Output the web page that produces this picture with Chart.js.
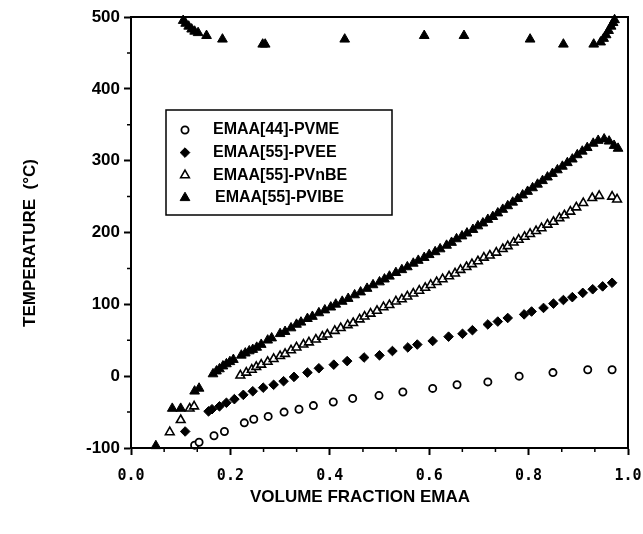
<!DOCTYPE html>
<html>
<head>
<meta charset="utf-8">
<title>EMAA blends - temperature vs volume fraction</title>
<script src="https://cdn.jsdelivr.net/npm/chart.js@4.4.1/dist/chart.umd.min.js"></script>
<style>
    body { margin: 0; background: #fff; }
    #wrap { width: 643px; height: 534px; }
</style>
</head>
<body>
<div id="wrap"><canvas id="myChart" width="643" height="534"></canvas></div>

<script>
    // series values
    const pvmeX = [0.128, 0.137, 0.167, 0.188, 0.228, 0.247, 0.276, 0.308, 0.338, 0.367, 0.407, 0.446,
                   0.499, 0.547, 0.607, 0.656, 0.718, 0.781, 0.849, 0.919, 0.968];
    const pvmeY = [-96, -92, -83, -77, -65, -60, -56, -50, -46, -41, -36, -31,
                   -27, -22, -17, -12, -8, 0, 5, 9, 9];

    const pveeX = [0.109, 0.156, 0.163, 0.178, 0.192, 0.208, 0.226, 0.245, 0.266, 0.287, 0.307, 0.328,
                   0.355, 0.378, 0.408, 0.435, 0.469, 0.500, 0.526, 0.557, 0.576, 0.607, 0.639, 0.667,
                   0.687, 0.718, 0.738, 0.758, 0.791, 0.806, 0.830, 0.850, 0.870, 0.888, 0.909, 0.929,
                   0.949, 0.968];
    const pveeY = [-77, -49, -46, -42, -37, -32, -26, -21, -16, -12, -7, -1,
                   5, 11, 16, 21, 26, 29, 35, 40, 44, 49, 55, 59,
                   64, 72, 76, 81, 86, 90, 95, 101, 106, 110, 116, 121,
                   125, 130];

    const pvnbeX = [0.078, 0.100, 0.118, 0.127, 0.220, 0.232, 0.243, 0.252, 0.262, 0.275, 0.287, 0.300,
                    0.310, 0.322, 0.333, 0.347, 0.358, 0.372, 0.385, 0.395, 0.410, 0.422, 0.436, 0.447,
                    0.460, 0.470, 0.482, 0.495, 0.508, 0.520, 0.533, 0.545, 0.556, 0.568, 0.580, 0.592,
                    0.603, 0.615, 0.627, 0.640, 0.652, 0.663, 0.675, 0.686, 0.698, 0.710, 0.722, 0.735,
                    0.748, 0.758, 0.770, 0.780, 0.792, 0.803, 0.815, 0.826, 0.838, 0.850, 0.862, 0.872,
                    0.884, 0.896, 0.910, 0.928, 0.942, 0.968, 0.978];
    const pvnbeY = [-78, -61, -45, -42, 1, 5, 9, 13, 16, 20, 24, 28,
                    31, 36, 40, 44, 47, 51, 55, 58, 63, 67, 71, 74,
                    79, 83, 87, 91, 96, 99, 104, 107, 111, 115, 119, 123,
                    127, 131, 135, 139, 143, 148, 152, 156, 160, 165, 168, 172,
                    177, 181, 186, 190, 194, 198, 202, 206, 211, 215, 220, 224,
                    229, 235, 241, 248, 251, 250, 246];

    const pvibeX = [0.050, 0.083, 0.100, 0.128, 0.137, 0.165, 0.172, 0.178, 0.185, 0.192, 0.199, 0.206,
                    0.222, 0.230, 0.238, 0.245, 0.253, 0.262, 0.275, 0.283, 0.300, 0.310, 0.322, 0.333,
                    0.342, 0.355, 0.365, 0.378, 0.390, 0.402, 0.412, 0.425, 0.437, 0.450, 0.462, 0.475,
                    0.487, 0.500, 0.510, 0.520, 0.533, 0.545, 0.556, 0.568, 0.578, 0.590, 0.600, 0.612,
                    0.622, 0.635, 0.645, 0.655, 0.666, 0.676, 0.688, 0.698, 0.708, 0.718, 0.728, 0.738,
                    0.748, 0.758, 0.768, 0.778, 0.788, 0.798, 0.808, 0.818, 0.828, 0.838, 0.848, 0.858,
                    0.868, 0.878, 0.888, 0.898, 0.908, 0.918, 0.930, 0.940, 0.952, 0.962, 0.972, 0.980];
    const pvibeY = [-97, -45, -45, -21, -17, 3, 7, 10, 14, 17, 20, 23,
                    29, 32, 35, 37, 40, 44, 50, 53, 59, 62, 67, 72,
                    75, 80, 83, 88, 92, 96, 100, 104, 108, 113, 117, 122,
                    127, 131, 135, 139, 144, 148, 152, 157, 161, 165, 169, 173,
                    177, 182, 186, 191, 195, 199, 204, 209, 213, 218, 222, 227,
                    232, 237, 242, 247, 252, 257, 262, 267, 272, 277, 282, 287,
                    292, 297, 302, 308, 313, 318, 324, 328, 330, 327, 321, 317];

    // upper branch, same filled triangles
    const pvibeTopX = [0.105, 0.110, 0.116, 0.122, 0.128, 0.135, 0.152, 0.184, 0.265, 0.270, 0.430, 0.590,
                       0.670, 0.803, 0.870, 0.931, 0.945, 0.951, 0.956, 0.961, 0.966, 0.970, 0.973];
    const pvibeTopY = [495, 491, 487, 483, 480, 478, 474, 469, 462, 462, 469, 474,
                       474, 469, 462, 462, 465, 470, 475, 481, 487, 492, 496];

    const seriesNames = ['EMAA[44]-PVME', 'EMAA[55]-PVEE', 'EMAA[55]-PVnBE', 'EMAA[55]-PVIBE'];

    const xTicks = [0, 0.2, 0.4, 0.6, 0.8, 1.0];
    const yTicks = [-100, 0, 100, 200, 300, 400, 500];
    const xMinorTicks = [0.0667, 0.1333, 0.2667, 0.3333, 0.4667, 0.5333, 0.6667, 0.7333, 0.8667, 0.9333];
    const yMinorTicks = [-50, 50, 150, 250, 350, 450];

    const xTitle = 'VOLUME FRACTION EMAA';
    const yTitle = 'TEMPERATURE  (°C)';

    function pairs(xs, ys) {
        var out = [];
        for (var i = 0; i < xs.length; i++) out.push({x: xs[i], y: ys[i]});
        return out;
    }

    const styles = [
        {pointStyle: 'circle',   radius: 3.6, borderWidth: 1.8, fill: '#fff'},
        {pointStyle: 'rectRot',  radius: 4.8, borderWidth: 1,   fill: '#000'},
        {pointStyle: 'triangle', radius: 5,   borderWidth: 1.6, fill: '#fff'},
        {pointStyle: 'triangle', radius: 5.6, borderWidth: 1,   fill: '#000'}
    ];

    const seriesData = [
        pairs(pvmeX, pvmeY),
        pairs(pveeX, pveeY),
        pairs(pvnbeX, pvnbeY),
        pairs(pvibeX, pvibeY).concat(pairs(pvibeTopX, pvibeTopY))
    ];

    const datasets = [];
    for (var i = 0; i < seriesData.length; i++) {
        datasets.push({
            label: seriesNames[i],
            data: seriesData[i],
            pointStyle: styles[i].pointStyle,
            pointRadius: styles[i].radius,
            pointBorderWidth: styles[i].borderWidth,
            pointBackgroundColor: styles[i].fill,
            pointBorderColor: '#000',
            showLine: false,
            clip: false
        });
    }

    const boldSans = {family: '"Liberation Sans", Arial, sans-serif', weight: 'bold', size: 17};

    // frame, minor ticks, legend box and axis titles
    const extras = {
        id: 'extras',
        afterDraw(chart) {
            const ctx = chart.ctx;
            const a = chart.chartArea;
            const xs = chart.scales.x, ys = chart.scales.y;
            ctx.save();
            ctx.strokeStyle = '#000';
            ctx.lineWidth = 2;
            ctx.strokeRect(a.left, a.top, a.right - a.left, a.bottom - a.top);

            ctx.lineWidth = 1.5;
            ctx.beginPath();
            xMinorTicks.forEach(function(v) {
                var px = xs.getPixelForValue(v);
                ctx.moveTo(px, a.bottom);
                ctx.lineTo(px, a.bottom + 4);
            });
            yMinorTicks.forEach(function(v) {
                var py = ys.getPixelForValue(v);
                ctx.moveTo(a.left, py);
                ctx.lineTo(a.left - 4, py);
            });
            ctx.stroke();

            // legend
            var bx = a.left + 35, by = a.top + 93, bw = 226, bh = 105;
            ctx.fillStyle = '#fff';
            ctx.fillRect(bx, by, bw, bh);
            ctx.lineWidth = 1.5;
            ctx.strokeRect(bx, by, bw, bh);
            ctx.font = 'bold 16px "Liberation Sans", Arial, sans-serif';
            ctx.textBaseline = 'middle';
            ctx.textAlign = 'left';
            for (var k = 0; k < seriesNames.length; k++) {
                var ry = by + 20 + k * 22.6;
                ctx.fillStyle = styles[k].fill;
                ctx.strokeStyle = '#000';
                ctx.lineWidth = styles[k].borderWidth;
                Chart.helpers.drawPoint(ctx, {
                    pointStyle: styles[k].pointStyle,
                    radius: styles[k].radius,
                    borderWidth: styles[k].borderWidth,
                    rotation: 0
                }, bx + 19, ry);
                ctx.fillStyle = '#000';
                ctx.fillText(seriesNames[k], bx + 47 + (k == 3 ? 2 : 0), ry);
            }

            // axis titles
            ctx.font = 'bold 17px "Liberation Sans", Arial, sans-serif';
            ctx.textAlign = 'center';
            ctx.fillText(xTitle, 360, 497);
            ctx.translate(30, 243);
            ctx.rotate(-Math.PI / 2);
            ctx.fillText(yTitle, 0, 0);
            ctx.restore();
        }
    };

    const ctx1 = document.getElementById('myChart').getContext('2d');
    const mychart = new Chart(ctx1, {
        type: 'scatter',
        data: {datasets: datasets},
        options: {
            responsive: false,
            animation: false,
            layout: {padding: {top: 17, right: 15, left: 0, bottom: 0}},
            plugins: {
                legend: {display: false},
                tooltip: {enabled: false}
            },
            scales: {
                x: {
                    type: 'linear',
                    min: 0,
                    max: 1,
                    afterBuildTicks: function(s) { s.ticks = xTicks.map(function(v) { return {value: v}; }); },
                    afterFit: function(s) { s.height = 86; s.paddingLeft = 0; s.paddingRight = 0; },
                    ticks: {
                        callback: function(v) { return v.toFixed(1); },
                        color: '#000',
                        font: {family: '"DejaVu Sans Mono", monospace', weight: 'bold', size: 15},
                        padding: 12,
                        maxRotation: 0,
                        autoSkip: false
                    },
                    grid: {drawOnChartArea: false, tickLength: 7, tickColor: '#000', tickWidth: 2},
                    border: {color: '#000', width: 2}
                },
                y: {
                    type: 'linear',
                    min: -100,
                    max: 500,
                    afterBuildTicks: function(s) { s.ticks = yTicks.map(function(v) { return {value: v}; }); },
                    afterFit: function(s) { s.width = 131; },
                    ticks: {
                        color: '#000',
                        font: boldSans,
                        padding: 4
                    },
                    grid: {drawOnChartArea: false, tickLength: 7, tickColor: '#000', tickWidth: 2},
                    border: {color: '#000', width: 2}
                }
            }
        },
        plugins: [extras]
    });
</script>
</body>
</html>
